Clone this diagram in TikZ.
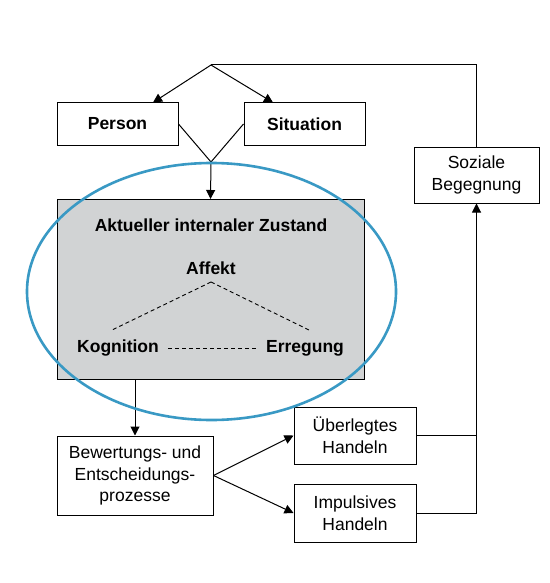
\documentclass[tikz,border=0pt]{standalone}
\usepackage{fontspec}
\setmainfont{Liberation Sans}
\usetikzlibrary{positioning,arrows.meta,shapes.geometric}

\definecolor{zustandgrau}{RGB}{209,211,212}
\definecolor{ellipsenblau}{RGB}{57,153,196}

\begin{document}
\begin{tikzpicture}[
  x=1pt, y=-1pt,
  box/.style={draw, line width=1pt, inner sep=0pt, align=center,
    font=\fontsize{17.5}{21.5}\selectfont},
  fettbox/.style={box, font=\fontsize{17.5}{21.5}\selectfont\bfseries},
  fett/.style={inner sep=3pt, font=\fontsize{17.5}{21.5}\selectfont\bfseries},
  pfeil/.style={-{Triangle[length=9pt,width=9pt]}, line width=1pt},
  linie/.style={line width=1pt},
  gestrichelt/.style={line width=0.9pt, dash pattern=on 4pt off 3pt}
]
\useasboundingbox (0,0) rectangle (549,583);

% Eingangsgroessen oben
\node[fettbox, minimum width=121, minimum height=42] (person) at (117.5,124) {Person};
\node[fettbox, minimum width=121, minimum height=42, right=65 of person] (situation) {Situation};
\coordinate (oben) at (211,65);
\coordinate (treffpunkt) at (211,162);

% Zustand mit Affekt, Kognition, Erregung
\node[box, fill=zustandgrau, minimum width=307, minimum height=180] (zustand) at (210.5,289.5) {};
\node[fett] (titel) at (211,225) {Aktueller internaler Zustand};
\node[fett] (affekt) at (211,268) {Affekt};
\node[fett] (kognition) at (118,348) {Kognition};
\node[fett] (erregung) at (305,348) {Erregung};
\coordinate (affektspitze) at (211,282);
\coordinate (kogende) at (112,330);
\coordinate (erregende) at (309,330);

% Verarbeitung und Handeln
\node[box, minimum width=156, minimum height=79] (bewertung) at (135,475.5)
  {Bewertungs- und\\Entscheidungs-\\prozesse};
\node[box, minimum width=122, minimum height=57] (ueberlegt) at (355,435.5)
  {Überlegtes\\Handeln};
\node[box, minimum width=122, minimum height=58] (impulsiv) at (355,513)
  {Impulsives\\Handeln};
\node[box, minimum width=125, minimum height=56] (soziale) at (476.5,175)
  {Soziale\\Begegnung};

% Verbindungen
\draw[pfeil] (oben) -- ([xshift=35.5]person.north);
\draw[pfeil] (oben) -- ([xshift=-31.5]situation.north);
\draw[linie] (person.east) -- (treffpunkt);
\draw[linie] (situation.west) -- (treffpunkt);
\draw[pfeil] (treffpunkt) -- (zustand.north);
\draw[gestrichelt] (affektspitze) -- (kogende);
\draw[gestrichelt] (affektspitze) -- (erregende);
\draw[gestrichelt, shorten <=6pt, shorten >=6pt] (kognition.east) -- (erregung.west);
\draw[pfeil] (zustand.south -| bewertung.north) -- (bewertung.north);
\draw[pfeil] (bewertung.east) -- (ueberlegt.west);
\draw[pfeil] (bewertung.east) -- (impulsiv.west);
\draw[linie] (ueberlegt.east) -- (ueberlegt.east -| soziale.south);
\draw[pfeil] (impulsiv.east) -| (soziale.south);
\draw[linie] (soziale.north) |- (oben);

% Ellipse um den Zustand
\node[draw=ellipsenblau, ellipse, line width=2.6pt, inner sep=0pt,
  minimum width=369, minimum height=257] (huelle) at (211.5,291.5) {};

\end{tikzpicture}
\end{document}
